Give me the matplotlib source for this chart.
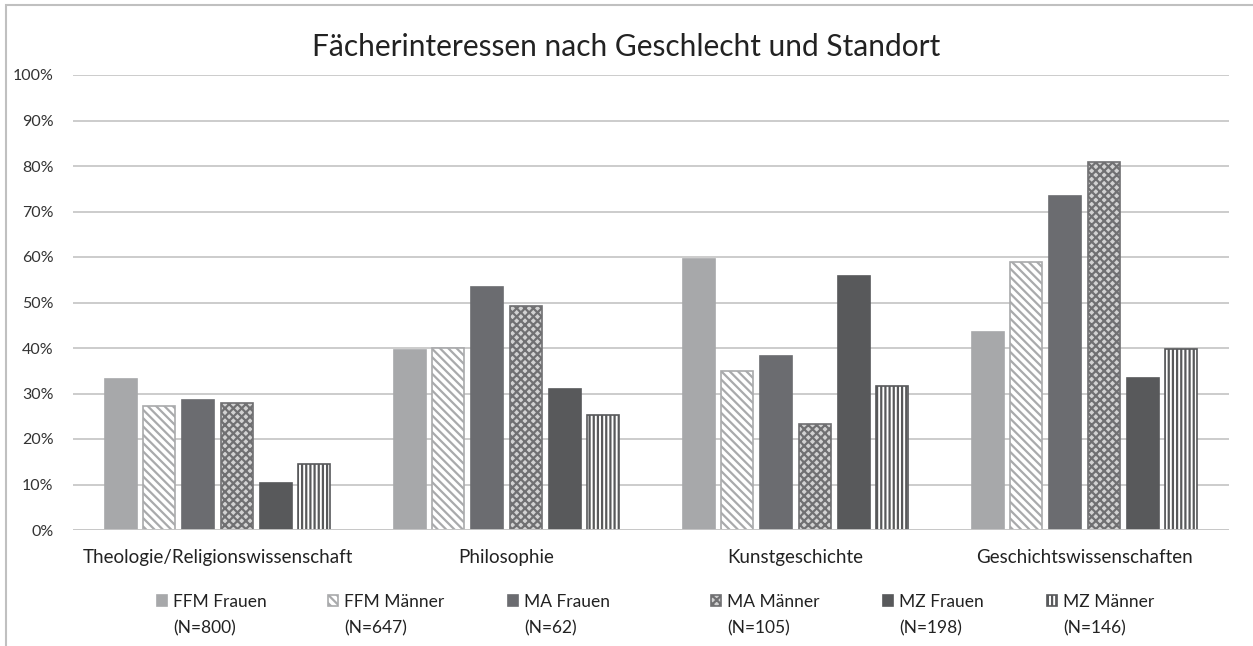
import numpy as np
import matplotlib
matplotlib.use("Agg")
import matplotlib.pyplot as plt
from matplotlib.patches import Rectangle

plt.rcParams['font.family'] = ['Lato', 'DejaVu Sans']
plt.rcParams['hatch.linewidth'] = 1.6

categories = ["Theologie/Religionswissenschaft", "Philosophie", "Kunstgeschichte", "Geschichtswissenschaften"]
series = ["FFM Frauen", "FFM Männer", "MA Frauen", "MA Männer", "MZ Frauen", "MZ Männer"]
series_n = ["(N=800)", "(N=647)", "(N=62)", "(N=105)", "(N=198)", "(N=146)"]

ffm_frauen = [33.2, 39.6, 59.5, 43.5]
ffm_maenner = [27.2, 40.1, 34.9, 59.0]
ma_frauen = [28.5, 53.4, 38.3, 73.4]
ma_maenner = [28.0, 49.2, 23.3, 80.8]
mz_frauen = [10.3, 31.0, 55.8, 33.5]
mz_maenner = [14.4, 25.3, 31.6, 39.8]
values = [ffm_frauen, ffm_maenner, ma_frauen, ma_maenner, mz_frauen, mz_maenner]

# (face, edge, hatch)
styles = [("#a7a8aa", "#a7a8aa", None),
          ("white", "#a9aaac", "\\\\\\\\"),
          ("#6b6c70", "#6b6c70", None),
          ("#d2d2d2", "#707072", "xxxx"),
          ("#58595b", "#58595b", None),
          ("white", "#58595b", "||||")]

# legend entry positions (px from left) - legend layout of the original
leg_x = [157, 328, 508, 711, 883, 1047]

W, H = 1253, 646
fig = plt.figure(figsize=(W/100, H/100), dpi=100)
ax = fig.add_axes([73/W, 1 - 530/H, (1229-73)/W, (530-75)/H])

x = np.arange(len(categories))
step = 0.134
width = 0.111
bars = []
for i, vals in enumerate(values):
    fc, ec, h = styles[i]
    b = ax.bar(x + (i - 2.5) * step, vals, width, color=fc, edgecolor=ec,
               hatch=h, linewidth=1.2, label=series[i], zorder=3)
    bars.append(b)

ax.set_ylim(0, 100)
ax.set_xlim(-0.5, 3.5)
ax.set_yticks(np.arange(0, 101, 10))
ax.set_yticklabels([f"{v}%" for v in range(0, 101, 10)], fontsize=11.5, color="#333333")
ax.set_xticks(x)
ax.set_xticklabels(categories, fontsize=13.5, color="#222222")
ax.tick_params(axis='both', length=0)
ax.tick_params(axis='y', pad=14)
ax.tick_params(axis='x', pad=14)
ax.grid(axis='y', color="#c8c8c8", linewidth=1.3, zorder=0)
for s in ax.spines.values():
    s.set_visible(False)
ax.axhline(0, color="#c8c8c8", linewidth=1.3, zorder=4)

fig.text(0.5, 1 - 47/H, "Fächerinteressen nach Geschlecht und Standort",
         ha='center', va='center', fontsize=21.5, color="#222222")

# one legend per entry so the spacing follows the original
legs = []
for i in range(len(series)):
    leg = fig.legend(handles=[bars[i]], labels=[series[i]], loc='center left',
                     bbox_to_anchor=(leg_x[i]/W, 1 - 602/H), frameon=False,
                     fontsize=12.5, handlelength=0.6, handleheight=0.6,
                     handletextpad=0.35, borderpad=0, borderaxespad=0)
    leg.get_texts()[0].set_color("#222222")
    legs.append(leg)

# second line (sample size) aligned with the legend text
fig.canvas.draw()
for leg, n in zip(legs, series_n):
    bb = leg.get_texts()[0].get_window_extent()
    fig.text(bb.x0/W, 1 - 628/H, n, ha='left', va='center',
             fontsize=12.5, color="#222222")

# outer chart border (left and top visible)
fig.patches.append(Rectangle((6/W, -0.1), 1.2, 1 - 5/H + 0.1,
                             transform=fig.transFigure, fill=False,
                             edgecolor="#c0c0c0", linewidth=1.5))

fig.savefig("out.png", dpi=100)
